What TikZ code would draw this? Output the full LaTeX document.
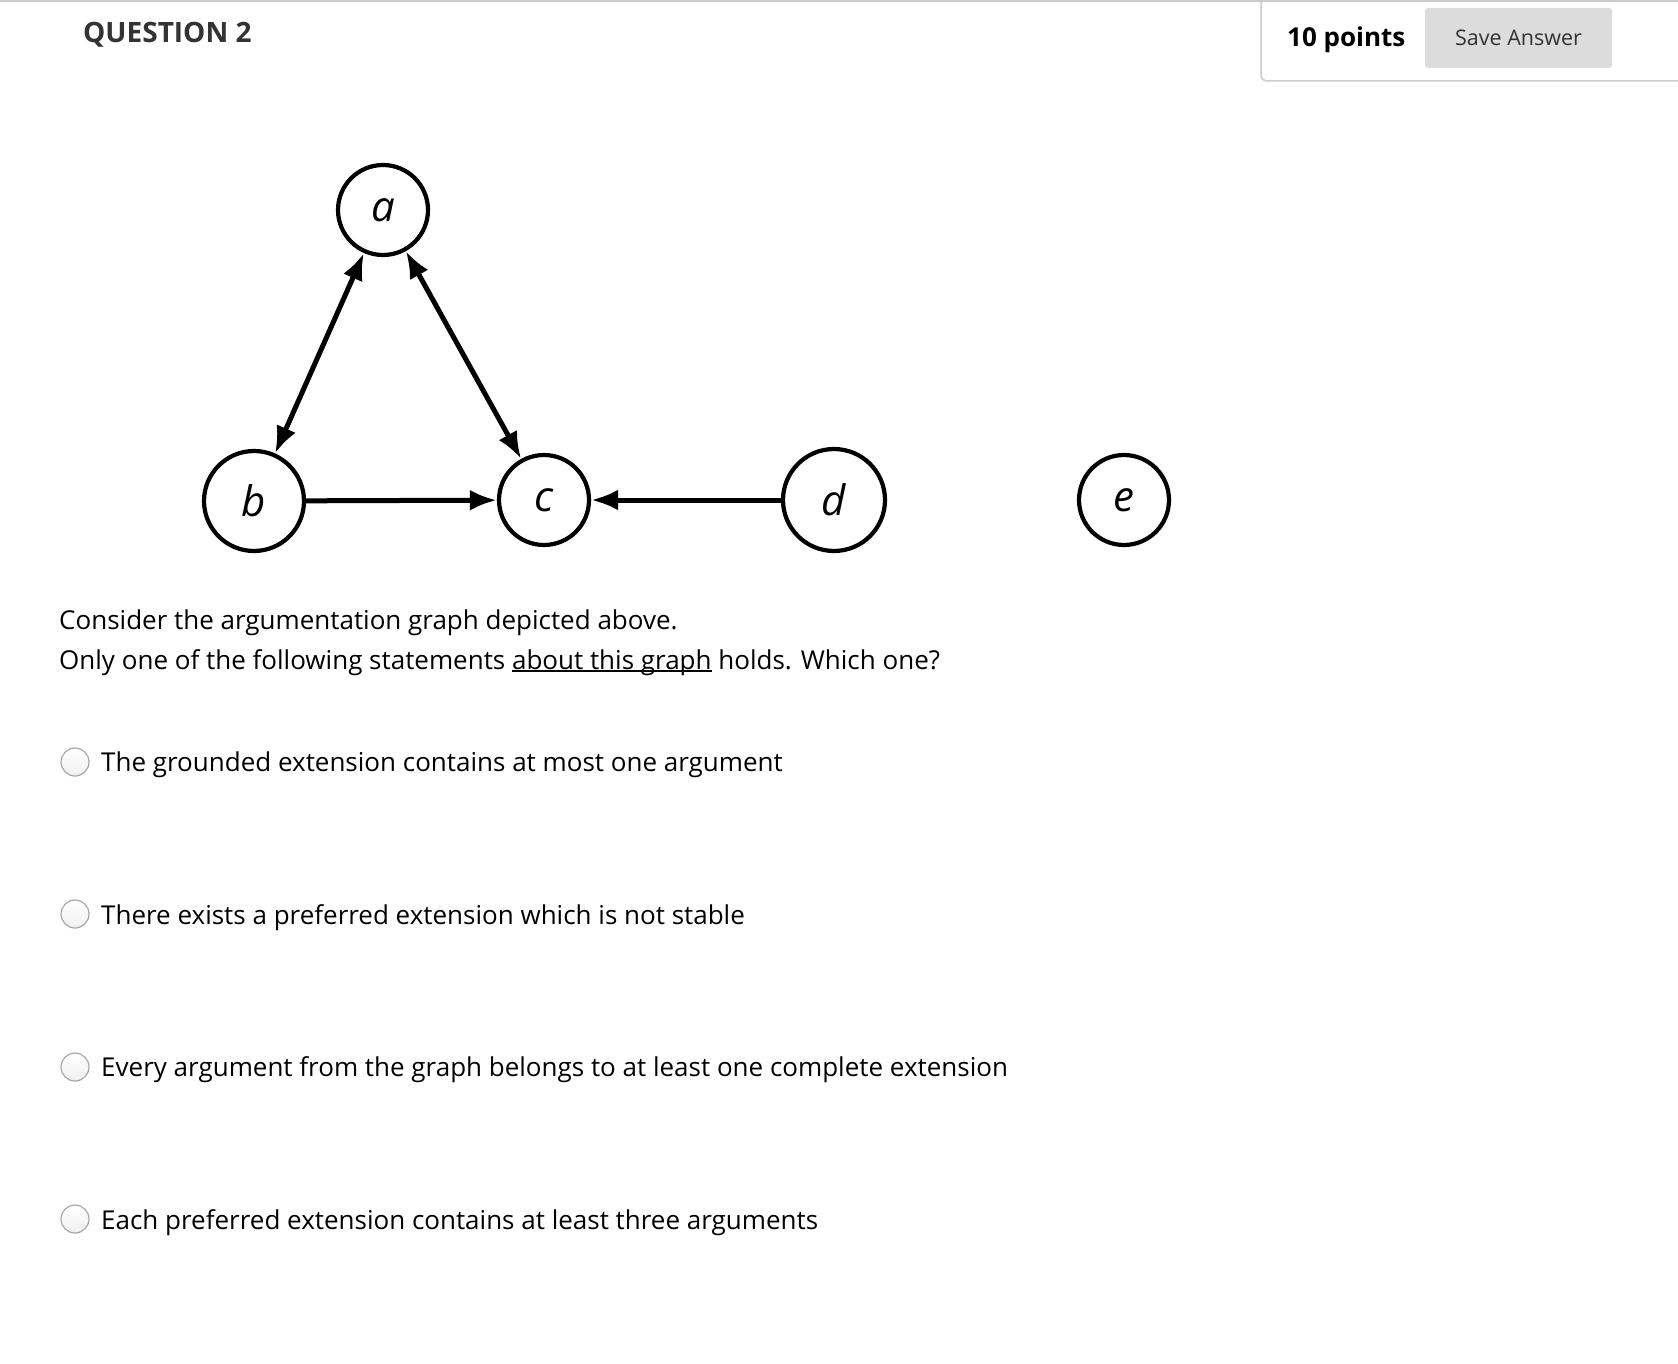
\documentclass[tikz,border=0pt]{standalone}
\usepackage{fontspec}
\setmainfont{Open Sans}
\usetikzlibrary{arrows.meta}
\definecolor{headgrey}{HTML}{333333}
\definecolor{rulegrey}{HTML}{CCCCCC}
\definecolor{buttongrey}{HTML}{DCDCDC}
\definecolor{radiogrey}{HTML}{A8A8A8}
\newcommand\lowul[1]{\setbox0\hbox{#1}\rlap{\rule[-3pt]{\wd0}{1.6pt}}\box0\relax}
\tikzset{
  arg/.style={circle, draw, line width=4.2pt, inner sep=0pt, font=\fontsize{42}{42}\selectfont\itshape},
  att/.style={line width=5pt, >={Latex[length=27pt,width=21pt]}},
  opt/.style={anchor=base west, inner sep=0pt, font=\fontsize{26}{30}\selectfont},
  radio/.style={circle, draw=radiogrey, line width=1.2pt, inner sep=0pt, minimum size=28pt,
    top color=white, bottom color=black!6}
}
\begin{document}
\begin{tikzpicture}[x=1pt, y=-1pt]
    \useasboundingbox (0,0) rectangle (1678,1364);
    % header
    \draw[rulegrey, line width=2pt] (0,1) -- (1678,1);
    \draw[rulegrey, line width=1.5pt, rounded corners=6pt] (1261,1) -- (1261,81) -- (1690,81);
    \node[anchor=base west, inner sep=0pt, text=headgrey, font=\fontsize{28}{30}\selectfont\bfseries] (title) at (83,43) {QUESTION 2};
    \node[anchor=base west, inner sep=0pt, font=\fontsize{26}{30}\selectfont\bfseries] (points) at (1287,47) {10 points};
    \node[fill=buttongrey, rounded corners=3pt, minimum width=187pt, minimum height=60pt, inner sep=0pt,
      font=\fontsize{21.5}{24}\selectfont, text=headgrey] (save) at (1518.5,38) {Save Answer};
    % graph
    \node[arg, minimum size=90pt] (a) at (383,210) {a};
    \node[arg, minimum size=100pt] (b) at (254,501) {b};
    \node[arg, minimum size=90pt] (c) at (544,500) {c};
    \node[arg, minimum size=102pt] (d) at (834,500) {d};
    \node[arg, minimum size=90pt] (e) at (1124,500) {e};
    \draw[att, <->] (a) -- (b);
    \draw[att, <->] (a) -- (c);
    \draw[att, ->] (b) -- (c);
    \draw[att, ->] (d) -- (c);
    % question
    \node[opt] (q1) at (59,629) {Consider the argumentation graph depicted above.};
    \node[opt] (q2) at (59,669) {Only one of the following statements \lowul{about this graph} holds. Which one?};
    % answers
    \node[radio] (r1) at (75,762) {};
    \node[radio] (r2) at (75,914) {};
    \node[radio] (r3) at (75,1067) {};
    \node[radio] (r4) at (75,1219) {};
    \node[opt] (o1) at (101,771) {The grounded extension contains at most one argument};
    \node[opt] (o2) at (101,924) {There exists a preferred extension which is not stable};
    \node[opt] (o3) at (101,1076) {Every argument from the graph belongs to at least one complete extension};
    \node[opt] (o4) at (101,1229) {Each preferred extension contains at least three arguments};
\end{tikzpicture}
\end{document}
